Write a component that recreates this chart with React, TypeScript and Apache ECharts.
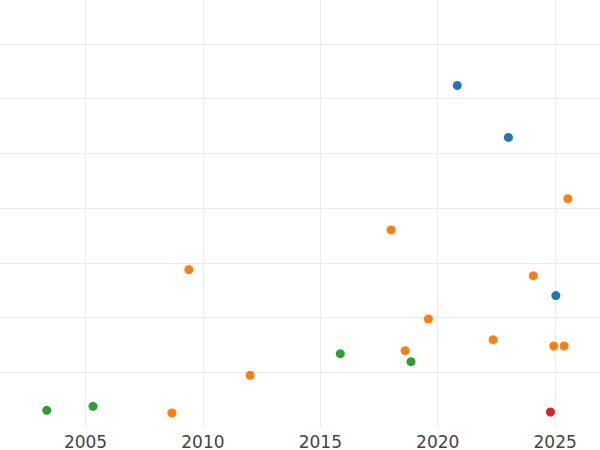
import React, { useEffect, useRef } from "react";
import * as echarts from "echarts";

const blueYears = [2020.83, 2023.01, 2025.03];
const blueValues = [6.24, 5.29, 2.4];

const orangeYears = [2025.54, 2009.4, 2008.68, 2012.01, 2018.01, 2024.07, 2019.6, 2018.61, 2022.36, 2024.94, 2025.38];
const orangeValues = [4.17, 2.875, 0.256, 0.945, 3.6, 2.765, 1.974, 1.394, 1.595, 1.48, 1.48];

const greenYears = [2003.35, 2005.32, 2015.85, 2018.86];
const greenValues = [0.305, 0.378, 1.34, 1.193];

const redYears = [2024.8];
const redValues = [0.274];

const zip = (xs: number[], ys: number[]) => xs.map((x, i) => [x, ys[i]]);

export default function App() {
  const ref = useRef<HTMLDivElement>(null);
  useEffect(() => {
    if (!ref.current) return;
    const chart = echarts.init(ref.current, undefined, { renderer: "svg" });
    const mk = (name: string, color: string, xs: number[], ys: number[]) => ({
      name,
      type: "scatter",
      data: zip(xs, ys),
      symbolSize: 9,
      itemStyle: { color, opacity: 1 },
    });
    chart.setOption({
      animation: false,
      backgroundColor: "#ffffff",
      grid: {
        left: -31.9,
        right: 0,
        top: 0,
        bottom: 23,
        containLabel: false,
        outerBoundsMode: "none",
      },
      xAxis: {
        type: "value",
        min: 2000,
        max: 2026.91,
        interval: 5,
        axisLine: { show: false },
        axisTick: { show: false },
        axisLabel: {
          show: true,
          showMinLabel: false,
          showMaxLabel: false,
          formatter: (v: number) => String(Math.round(v)),
          color: "#444444",
          fontFamily: "DejaVu Sans",
          fontSize: 17,
          margin: 6,
        },
        splitLine: {
          show: true,
          showMinLine: false,
          showMaxLine: false,
          lineStyle: { color: "#ebebeb", width: 1 },
        },
      },
      yAxis: {
        type: "value",
        min: 0,
        max: 7.8,
        interval: 1,
        axisLine: { show: false },
        axisTick: { show: false },
        axisLabel: { show: false },
        splitLine: {
          show: true,
          showMinLine: false,
          showMaxLine: false,
          lineStyle: { color: "#ebebeb", width: 1 },
        },
      },
      series: [
        mk("blue", "#1f77b4", blueYears, blueValues),
        mk("orange", "#ff7f0e", orangeYears, orangeValues),
        mk("green", "#2ca02c", greenYears, greenValues),
        mk("red", "#d62728", redYears, redValues),
      ],
    });
    return () => chart.dispose();
  }, []);
  return (
    <div
      ref={ref}
      style={{ position: "fixed", left: 0, top: 0, width: 600, height: 450 }}
    />
  );
}
